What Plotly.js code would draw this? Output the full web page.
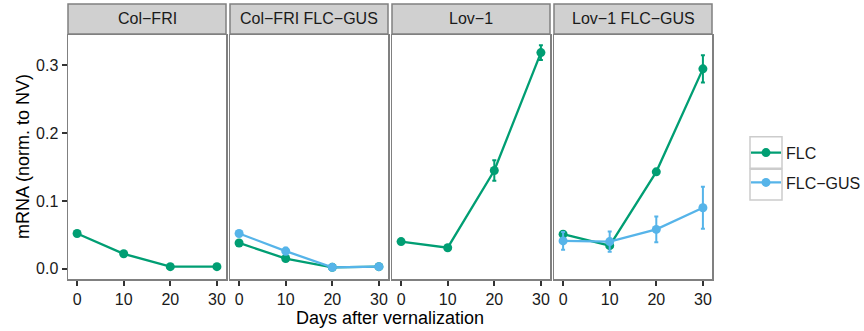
<!DOCTYPE html>
<html>
<head>
<meta charset="utf-8">
<script src="https://cdn.plot.ly/plotly-3.0.1.min.js"></script>
<style>html,body{margin:0;padding:0;background:#fff;}#chart{width:864px;height:331px;}</style>
</head>
<body>
<div id="chart"></div>
<script>
// ---- data ----
const days = [0, 10, 20, 30];
const panels = ["Col\u2212FRI", "Col\u2212FRI FLC\u2212GUS", "Lov\u22121", "Lov\u22121 FLC\u2212GUS"];
const seriesNames = ["FLC", "FLC\u2212GUS"];
const colors = ["#009E73", "#56B4E9"];

// FLC per panel
const flcColFri      = [0.052, 0.022, 0.003, 0.003];
const flcColFriErr   = [0.002, 0.002, 0.001, 0.001];
const flcColFriGus   = [0.038, 0.015, 0.002, 0.003];
const flcColFriGusErr= [0.002, 0.002, 0.001, 0.001];
const flcLov         = [0.040, 0.031, 0.145, 0.319];
const flcLovErr      = [0.002, 0.002, 0.015, 0.011];
const flcLovGus      = [0.051, 0.034, 0.143, 0.295];
const flcLovGusErr   = [0.004, 0.003, 0.003, 0.020];
// FLC-GUS per panel
const gusColFriGus   = [0.052, 0.026, 0.002, 0.003];
const gusColFriGusErr= [0.003, 0.005, 0.002, 0.002];
const gusLovGus      = [0.041, 0.040, 0.058, 0.090];
const gusLovGusErr   = [0.013, 0.015, 0.019, 0.031];

const yTicks = [0, 0.1, 0.2, 0.3];
const xTicks = [0, 10, 20, 30];

// ---- build ----
const FONT = '"Liberation Sans", Arial, Helvetica, sans-serif';
const L = 68, R = 152, T = 35, B = 52, W = 864, H = 331;
const plotW = W - L - R, plotH = H - T - B;
const panelW = 158, gap = 4;

const panelData = [
  [[0, flcColFri, flcColFriErr]],
  [[0, flcColFriGus, flcColFriGusErr], [1, gusColFriGus, gusColFriGusErr]],
  [[0, flcLov, flcLovErr]],
  [[0, flcLovGus, flcLovGusErr], [1, gusLovGus, gusLovGusErr]]
];

const traces = [];
const legendShown = [false, false];
panelData.forEach((list, p) => {
  list.forEach(([s, vals, errs]) => {
    traces.push({
      type: 'scatter', mode: 'lines+markers',
      x: days, y: vals,
      xaxis: p === 0 ? 'x' : 'x' + (p + 1),
      yaxis: p === 0 ? 'y' : 'y' + (p + 1),
      name: seriesNames[s], legendgroup: seriesNames[s],
      showlegend: !legendShown[s],
      line: {color: colors[s], width: 2.3},
      marker: {color: colors[s], size: 9},
      error_y: {type: 'data', array: errs, visible: true, color: colors[s], thickness: 2, width: 2},
      cliponaxis: false
    });
    legendShown[s] = true;
  });
});

const layout = {
  width: W, height: H,
  margin: {l: L, r: R, t: T, b: B, pad: 0, autoexpand: false},
  paper_bgcolor: '#ffffff', plot_bgcolor: '#ffffff',
  font: {family: FONT, size: 16, color: '#1A1A1A'},
  showlegend: true,
  legend: {
    xref: 'container', yref: 'container',
    x: 746 / W, xanchor: 'left',
    y: 1 - 135.7 / H, yanchor: 'top',
    bgcolor: 'rgba(0,0,0,0)', borderwidth: 0,
    font: {family: FONT, size: 16, color: '#1A1A1A'},
    traceorder: 'grouped', tracegroupgap: 6,
    itemclick: false
  },
  shapes: [], annotations: []
};

for (let p = 0; p < 4; p++) {
  const x0 = (p * (panelW + gap)) / plotW;
  const x1 = (p * (panelW + gap) + panelW) / plotW;
  const xa = p === 0 ? 'xaxis' : 'xaxis' + (p + 1);
  const ya = p === 0 ? 'yaxis' : 'yaxis' + (p + 1);
  layout[xa] = {
    domain: [x0, x1], anchor: p === 0 ? 'y' : 'y' + (p + 1),
    range: [-1.95, 31.95], tickvals: xTicks, ticktext: xTicks.map(String),
    showgrid: false, zeroline: false,
    showline: true, mirror: true, linecolor: '#808080', linewidth: 1.5,
    ticks: 'outside', ticklen: 5, tickwidth: 2, tickcolor: '#333333',
    tickfont: {family: FONT, size: 16, color: '#1A1A1A'},
    automargin: false, fixedrange: true
  };
  layout[ya] = {
    domain: [0, 1], anchor: p === 0 ? 'x' : 'x' + (p + 1),
    range: [-0.0152, 0.345], tickvals: yTicks, ticktext: yTicks.map(v => v.toFixed(1)),
    showgrid: false, zeroline: false,
    showline: true, mirror: true, linecolor: '#808080', linewidth: 1.5,
    ticks: p === 0 ? 'outside' : '', ticklen: 5, tickwidth: 2, tickcolor: '#333333',
    showticklabels: p === 0,
    tickfont: {family: FONT, size: 16, color: '#1A1A1A'},
    automargin: false, fixedrange: true
  };
  // strip
  layout.shapes.push({
    type: 'rect', xref: 'paper', yref: 'paper',
    x0: x0, x1: x1, y0: 1 + 1 / plotH, y1: 1 + 31 / plotH,
    fillcolor: '#D0D0D0', line: {color: '#808080', width: 1.5}, layer: 'above'
  });
  layout.annotations.push({
    xref: 'paper', yref: 'paper', x: (x0 + x1) / 2, y: 1 + 16 / plotH,
    xanchor: 'center', yanchor: 'middle', showarrow: false,
    text: panels[p], font: {family: FONT, size: 16, color: '#1A1A1A'}
  });
}

// axis titles
layout.annotations.push({
  xref: 'paper', yref: 'paper', x: 0.5, y: (H - B - 318) / plotH,
  xanchor: 'center', yanchor: 'middle', showarrow: false,
  text: 'Days after vernalization', font: {family: FONT, size: 18, color: '#000000'}
});
layout.annotations.push({
  xref: 'paper', yref: 'paper', x: (23 - L) / plotW, y: 0.5,
  xanchor: 'center', yanchor: 'middle', showarrow: false, textangle: -90,
  text: 'mRNA (norm. to NV)', font: {family: FONT, size: 18, color: '#000000'}
});

// legend key boxes
const keyBoxes = [[136.7, 168.3], [169.3, 200]];
keyBoxes.forEach(([top, bot]) => {
  layout.shapes.push({
    type: 'rect', xref: 'paper', yref: 'paper',
    x0: (750 - L) / plotW, x1: (782 - L) / plotW,
    y0: (H - B - bot) / plotH, y1: (H - B - top) / plotH,
    fillcolor: '#ffffff', line: {color: '#CCCCCC', width: 1.5}, layer: 'above'
  });
});

Plotly.newPlot('chart', traces, layout, {displayModeBar: false, staticPlot: true});
</script>
</body>
</html>
